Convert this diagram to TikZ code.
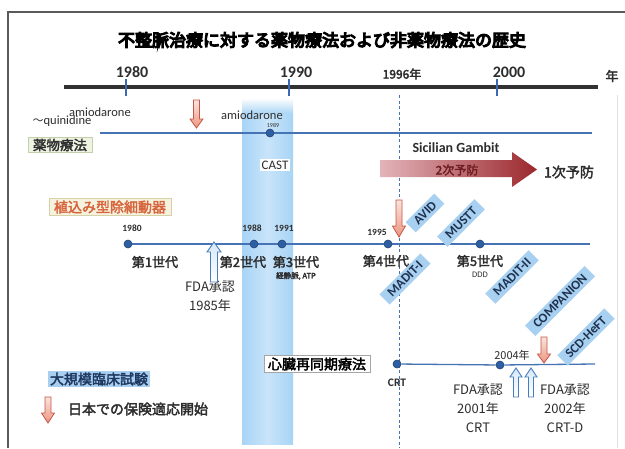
\documentclass[tikz,border=0pt]{standalone}
\usepackage{fontspec}
\setmainfont{Carlito}
\newfontfamily\cjk{Noto Sans CJK JP}
\newfontfamily\cjkb{Noto Sans CJK JP}[FakeBold=2.5]
\newfontfamily\cjkB{Noto Sans CJK JP}[FakeBold=7]
\usetikzlibrary{backgrounds}
\newcommand\fsz[1]{\fontsize{#1}{#1}\selectfont}
\newcommand\vArrow[6]{%
  \shadedraw[#1] ({#2-#6},#3) -- ({#2-#6},#4) -- ({#2-#6-3.5},#4) -- (#2,#5) -- ({#2+#6+3.5},#4) -- ({#2+#6},#4) -- ({#2+#6},#3) -- cycle;}
\definecolor{lineblue}{RGB}{70,115,180}
\definecolor{dotblue}{RGB}{45,95,165}
\definecolor{bandblue}{RGB}{168,212,245}
\definecolor{bandlight}{RGB}{200,228,250}
\definecolor{trialfill}{RGB}{168,208,240}
\definecolor{trialtext}{RGB}{30,50,80}
\definecolor{redline}{RGB}{200,85,70}
\definecolor{redtop}{RGB}{250,228,222}
\definecolor{redbot}{RGB}{236,150,130}
\definecolor{blueline}{RGB}{70,125,190}
\definecolor{bluefill}{RGB}{215,232,248}
\definecolor{textgray}{RGB}{45,45,45}
\definecolor{axisgray}{RGB}{50,50,50}
\definecolor{tickblue}{RGB}{60,105,180}
\definecolor{framegray}{RGB}{90,90,90}
\definecolor{sgL}{RGB}{226,180,186}
\definecolor{sgR}{RGB}{155,40,45}
\definecolor{sgtext}{RGB}{110,30,35}
\definecolor{drugfill}{RGB}{238,244,226}
\definecolor{drugdraw}{RGB}{195,208,170}
\definecolor{icdfill}{RGB}{245,243,224}
\definecolor{icddraw}{RGB}{215,210,165}
\definecolor{icdtext}{RGB}{215,100,60}
\definecolor{legfill}{RGB}{168,206,240}
\definecolor{legtext}{RGB}{30,55,95}
\begin{document}
\begin{tikzpicture}[x=1pt,y=-1pt,
  tdot/.style={circle, fill=dotblue, draw=dotblue!70!black, line width=0.6pt, minimum size=8pt, inner sep=0pt},
  trial/.style={rotate=45, fill=trialfill, text=trialtext, font=\bfseries\fsz{13}, inner xsep=7pt, inner ysep=3pt},
  lat/.style={font=\fsz{12.5}, text=textgray, inner sep=1pt},
  yearlab/.style={font=\bfseries\fsz{16}, text=textgray, inner sep=1pt},
  small/.style={font=\bfseries\fsz{9.5}, text=textgray, inner sep=1pt},
  jp/.style={font=\cjk\fsz{13}, text=textgray, inner sep=1pt},
  jpb/.style={font=\cjkb\fsz{13}, text=textgray, inner sep=1pt},
  redarr/.style={draw=redline, top color=redtop, bottom color=redbot, line width=0.8pt},
  bluearr/.style={draw=blueline, top color=bluefill, bottom color=white, line width=0.9pt},
]
\useasboundingbox (0,0) rectangle (625,448);

% ---------- title and axis labels
\node[font=\cjkB\fsz{17}, text=black] (title) at (322,40) {不整脈治療に対する薬物療法および非薬物療法の歴史};
\node[yearlab] (y1980) at (132,72) {1980};
\node[yearlab] (y1990) at (296,72) {1990};
\node[font=\cjkb\fsz{12}, text=textgray] (y1996) at (402,74) {1996年};
\node[yearlab] (y2000) at (509,72) {2000};
\node[jpb] (nen) at (612,76) {年};

% ---------- drug therapy row
\node[lat] (amio1) at (100,112) {amiodarone};
\node[lat] (quin) at (62,121) {{\cjk\fsz{11}〜}quinidine};
\node[lat] (amio2) at (252,115) {amiodarone};
\node[font=\fsz{6}, text=textgray, inner sep=0pt] (l1989) at (273,125) {1989};
\node[tdot] (d1989) at (270,133) {};
\node[lat, font=\fsz{13}, fill=white, inner sep=2pt] (cast) at (275,165) {CAST};
\node[font=\cjkb\fsz{13.5}, text=textgray, fill=drugfill, draw=drugdraw, line width=0.8pt, inner xsep=5pt, inner ysep=1.5pt] (drugbox) at (60,145) {薬物療法};
\node[font=\bfseries\fsz{14}, text=textgray] (sg) at (456,148) {Sicilian Gambit};
\shade[left color=sgL, right color=sgR] (380,160) -- (512,160) -- (512,152) -- (537,169.5) -- (512,187) -- (512,177) -- (380,177) -- cycle;
\node[font=\cjkb\fsz{12}, text=sgtext] (prev2) at (457,170) {2次予防};
\node[font=\cjkb\fsz{14}, text=textgray] (prev1) at (569,172) {1次予防};
\vArrow{redarr}{196.5}{100}{119}{128}{3}

% ---------- ICD row
\node[font=\cjkb\fsz{14}, text=icdtext, fill=icdfill, draw=icddraw, line width=0.8pt, inner xsep=5pt, inner ysep=2pt] (icdbox) at (110,207) {植込み型除細動器};
\node[tdot] (i1980) at (128,244) {};
\node[tdot] (i1988) at (254,244) {};
\node[tdot] (i1991) at (282,244) {};
\node[tdot] (i1995) at (388,244) {};
\node[tdot] (i5) at (480,244) {};
\coordinate (icdR) at (590,244);
\node[small] (l1980) at (132,228) {1980};
\node[small] (l1988) at (252,228) {1988};
\node[small] (l1991) at (284,228) {1991};
\node[small] (l1995) at (377,232) {1995};
\node[jpb] (g1) at (155,262) {第1世代};
\node[jpb] (g2) at (243,262) {第2世代};
\node[jpb] (g3) at (296,262) {第3世代};
\node[font=\cjkb\fsz{7.5}, text=textgray, inner sep=0pt] (g3s) at (296,276) {経静脈, ATP};
\node[jpb] (g4) at (386,261) {第4世代};
\node[jpb] (g5) at (480,261) {第5世代};
\node[font=\fsz{8.5}, text=textgray, inner sep=0pt] (g5s) at (480,275) {DDD};
\node[jp] (fda85a) at (210,287) {FDA承認};
\node[jp] (fda85b) at (210,306) {1985年};
\vArrow{bluearr}{214}{282}{252}{242}{3.5}
\vArrow{redarr}{399}{200}{226}{237}{3}

\node[trial] (avid) at (425,213) {AVID};
\node[trial] (mustt) at (461,223) {MUSTT};
\node[trial] (madit1) at (405,279) {MADIT-I};
\node[trial] (madit2) at (512,277) {MADIT-II};
\node[trial] (companion) at (560,301) {COMPANION};
\node[trial] (scd) at (586,337) {SCD-HeFT};

% ---------- CRT row
\node[font=\cjkb\fsz{14}, text=black, fill=white, draw=gray!70, line width=0.7pt, inner xsep=4pt, inner ysep=2pt] (crtbox) at (317,364) {心臓再同期療法};
\node[tdot] (crt0) at (397,364) {};
\node[tdot] (crt4) at (500,365) {};
\coordinate (crtR) at (595,364);
\node[lat, font=\bfseries\fsz{11.5}] (crtl) at (397,383) {CRT};
\node[font=\cjk\fsz{11}, text=textgray, inner sep=1pt] (l2004) at (512,355) {2004年};
\vArrow{bluearr}{516}{397}{377}{368}{2.5}
\vArrow{bluearr}{531}{397}{377}{368}{2.5}
\vArrow{redarr}{544}{337}{354}{363}{3}
\node[jp] (fda01a) at (478,390) {FDA承認};
\node[jp] (fda01b) at (478,409) {2001年};
\node[jp] (fda01c) at (478,428) {CRT};
\node[jp] (fda02a) at (565,390) {FDA承認};
\node[jp] (fda02b) at (565,409) {2002年};
\node[jp] (fda02c) at (565,428) {CRT-D};

% ---------- legend
\node[font=\cjkb\fsz{14}, text=legtext, fill=legfill, inner xsep=2pt, inner ysep=2pt] (legbox) at (99,379) {大規模臨床試験};
\node[font=\cjkb\fsz{14}, text=textgray] (legtxt) at (138,409) {日本での保険適応開始};
\vArrow{redarr}{48}{397}{413}{423}{3}

% ---------- background: band, frame, axis, lines
\begin{pgfonlayer}{background}
\fill[white] (0,0) rectangle (625,448);
\shade[top color=white, bottom color=bandblue] (242,98) rectangle (293,114);
\shade[left color=bandblue, right color=bandblue, middle color=bandlight] (242,114) rectangle (293,444);
\draw[framegray, line width=1.4pt] (8,448) -- (8,12) -- (625,12);
\draw[gray!25, line width=0.6pt] (617,95) -- (617,448);
\coordinate (axL) at (64,87);
\coordinate (axR) at (598,87);
\draw[axisgray, line width=3.5pt] (axL) -- (axR);
\foreach \x in {126,289,497} \draw[tickblue, line width=1.6pt] (\x,79) -- (\x,96);
\coordinate (d96top) at (399,95);
\coordinate (d96bot) at (399,448);
\draw[lineblue, line width=0.9pt, dash pattern=on 3pt off 2.5pt] (d96top) -- (d96bot);
\coordinate (drugL) at (100,133);
\coordinate (drugR) at (592,133);
\draw[lineblue, line width=1.3pt] (drugL) -- (d1989) -- (drugR);
\draw[lineblue, line width=1.3pt] (i1980) -- (i1988) -- (i1991) -- (i1995) -- (i5) -- (icdR);
\draw[lineblue, line width=1.3pt] (crt0) -- (crt4) -- (crtR);
\end{pgfonlayer}
\end{tikzpicture}
\end{document}
